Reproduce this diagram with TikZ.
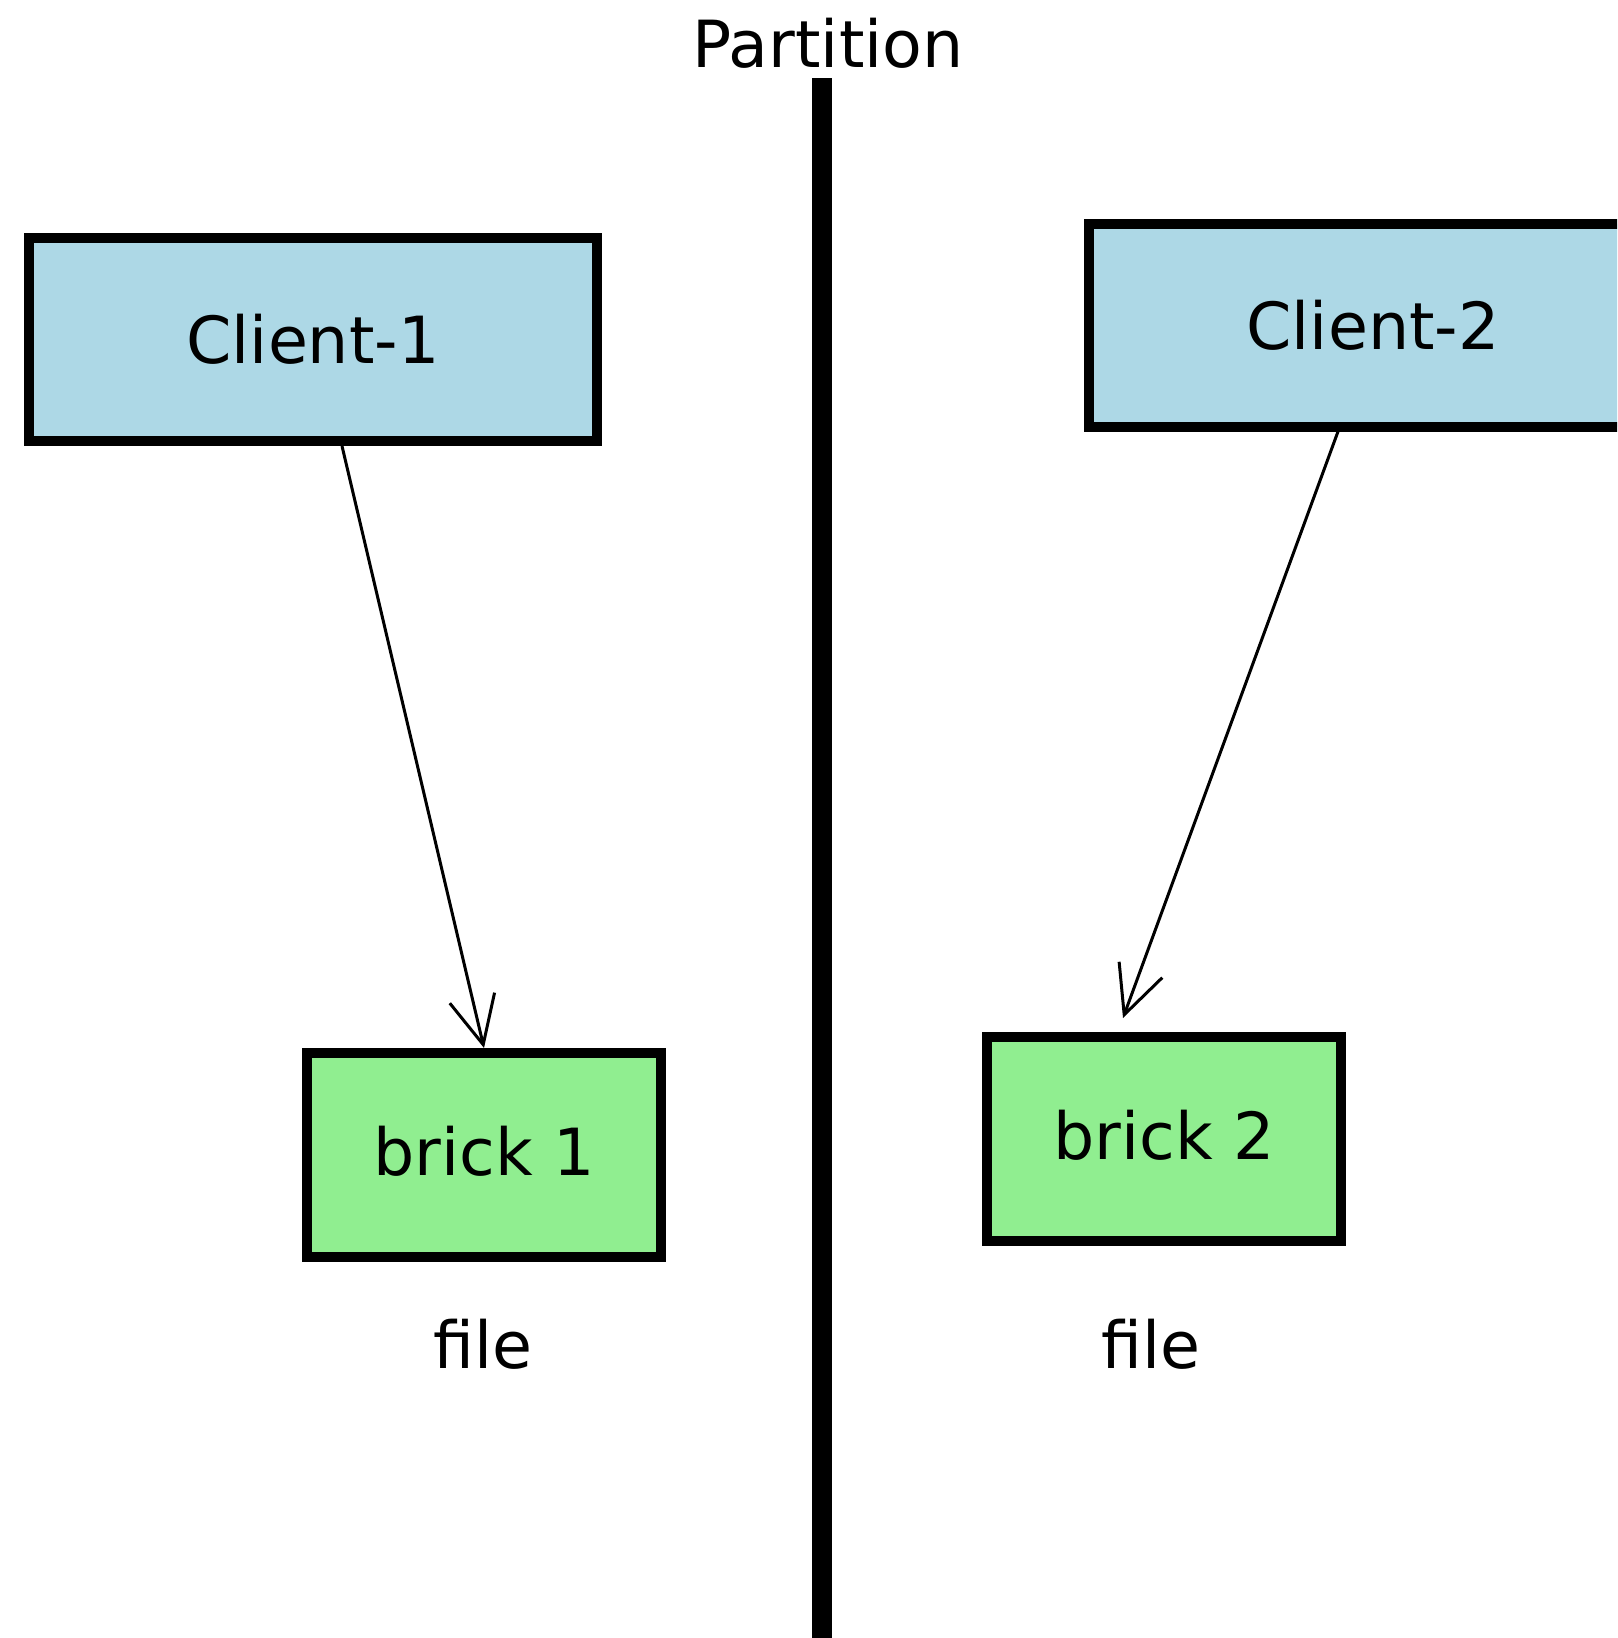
\documentclass[tikz,border=0pt]{standalone}
\usepackage{fontspec}
\setmainfont{DejaVu Sans}
\usetikzlibrary{arrows.meta}
\definecolor{clientfill}{RGB}{173,216,230}
\definecolor{brickfill}{RGB}{144,238,144}
\begin{document}
\begin{tikzpicture}[x=1pt,y=-1pt,
  every node/.style={font=\fontsize{65}{78}\selectfont, inner sep=0pt},
  clientbox/.style={draw=black, line width=10pt, fill=clientfill, minimum width=568pt, minimum height=203pt},
  brickbox/.style={draw=black, line width=10pt, fill=brickfill, minimum width=354pt, minimum height=204pt},
  conn/.style={line width=3pt, -{Straight Barb[length=48pt,width=46pt,line width=3pt]}}]
\clip (0,0) rectangle (1617,1638);
\fill[white] (0,0) rectangle (1617,1638);
\node[anchor=base] (part) at (828,67) {Partition};
\coordinate (ptop) at (822,78);
\coordinate (pbot) at (822,1650);
\draw[line width=20pt] (ptop) -- (pbot);
\node[clientbox] (c1) at (313,339.5) {Client-1};
\node[clientbox] (c2) at (1373,325) {Client-2};
\node[brickbox] (b1) at (484,1155) {\raisebox{8pt}{brick 1}};
\node[brickbox] (b2) at (1164,1139) {\raisebox{9pt}{brick 2}};
\node[anchor=base] (f1) at (483,1368) {file};
\node[anchor=base] (f2) at (1151,1368) {file};
\draw[conn] ([xshift=29pt]c1.south) -- (b1.north);
\draw[conn] ([xshift=-35pt]c2.south) -- ([xshift=-41pt,yshift=14pt]b2.north);
\end{tikzpicture}
\end{document}
